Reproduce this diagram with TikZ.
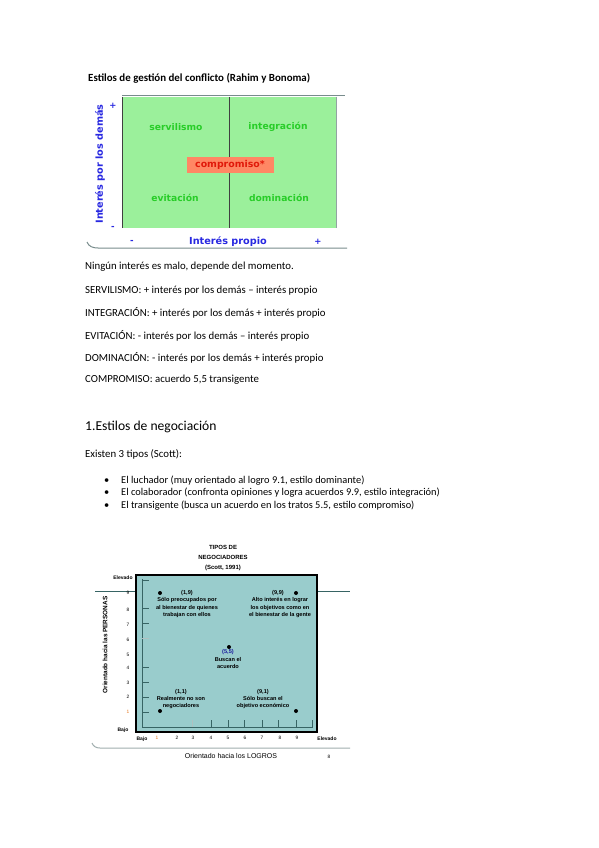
\documentclass[tikz,border=0pt]{standalone}
\usepackage{fontspec}
\setmainfont{Carlito}
\newfontfamily\arialfont{Liberation Sans}
\newfontfamily\verdfont{DejaVu Sans}
\usetikzlibrary{positioning}
\definecolor{quadgreen}{RGB}{155,240,155}
\definecolor{quadtext}{RGB}{40,205,40}
\definecolor{axblue}{RGB}{40,40,225}
\definecolor{compfill}{RGB}{255,135,100}
\definecolor{compred}{RGB}{225,25,10}
\definecolor{rulegray}{RGB}{120,140,140}
\definecolor{scottfill}{RGB}{153,204,204}
\definecolor{scottline}{RGB}{55,100,100}
\definecolor{tickorange}{RGB}{230,120,30}
\tikzset{
  body/.style={anchor=west, inner sep=0pt, font=\fontsize{10.8}{12}\selectfont},
  quad/.style={font=\verdfont\bfseries\fontsize{9.2}{10}\selectfont, text=quadtext, inner sep=0pt},
  axlab/.style={font=\verdfont\bfseries\fontsize{9.7}{11}\selectfont, text=axblue, inner sep=0pt},
  sgn/.style={font=\verdfont\bfseries\fontsize{8.5}{10}\selectfont, text=axblue, inner sep=0pt},
  scott/.style={font=\arialfont\bfseries\fontsize{5.6}{7.2}\selectfont, align=center, inner sep=0pt},
  tlab/.style={font=\arialfont\fontsize{4.8}{5}\selectfont, inner sep=0pt},
  tbold/.style={font=\arialfont\bfseries\fontsize{5}{5}\selectfont, inner sep=0pt},
  pt/.style={circle, fill=black, inner sep=0pt, minimum size=4pt},
  grule/.style={rulegray, line width=1pt},
}

\begin{document}
\begin{tikzpicture}[x=1pt, y=-1pt]
  \useasboundingbox[fill=white] (0,0) rectangle (599,848);

  % estilos de gestion
  \node[anchor=west, inner sep=0pt, font=\fontsize{10.9}{12}\selectfont\bfseries] (title) at (88,78)
    {Estilos de gestión del conflicto (Rahim y Bonoma)};
  \fill[quadgreen] (122,97) rectangle (336,228);
  \draw[grule] (122,96) -- (345,96);
  \draw[rulegray!80, line width=0.8pt] (336,97) -- (336,228);
  \draw[black!75, line width=0.9pt] (122,97) -- (122,228);
  \draw[black!75, line width=0.9pt] (229,97) -- (229,228);
  \draw[grule] (87,242) to[out=-70, in=180] (98,248) -- (347,248);
  \node[quad] (servil) at (176,127) {servilismo};
  \node[quad] (integr) at (278,127) {integración};
  \node[quad] (evit) at (175,198) {evitación};
  \node[quad] (domin) at (279,198) {dominación};
  \node[fill=compfill, text=compred, font=\verdfont\bfseries\fontsize{9.4}{11}\selectfont,
    minimum width=87pt, minimum height=16pt, inner sep=0pt] (compr) at (230,165) {compromiso*};
  \node[axlab, rotate=90] (demas) at (100,164) {Interés por los demás};
  \node[sgn] (dmas) at (113,106) {+};
  \node[sgn] (dmenos) at (113,228) {-};
  \node[axlab] (propio) at (228,242) {Interés propio};
  \node[sgn] (pmenos) at (132,242) {-};
  \node[sgn] (pmas) at (318,242) {+};

  % texto
  \node[body] (l1) at (85,267) {Ningún interés es malo, depende del momento.};
  \node[body] (l2) at (85,291) {SERVILISMO: + interés por los demás – interés propio};
  \node[body] (l3) at (85,313) {INTEGRACIÓN: + interés por los demás + interés propio};
  \node[body] (l4) at (85,336) {EVITACIÓN: - interés por los demás – interés propio};
  \node[body] (l5) at (85,358) {DOMINACIÓN: - interés por los demás + interés propio};
  \node[body] (l6) at (85,380) {COMPROMISO: acuerdo 5,5 transigente};
  \node[anchor=west, inner sep=0pt, font=\fontsize{13.6}{15}\selectfont] (sec) at (85,427)
    {1.Estilos de negociación};
  \node[body] (exist) at (85,454) {Existen 3 tipos (Scott):};
  \foreach \yy/\txt [count=\i] in {481/{El luchador (muy orientado al logro 9.1, estilo dominante)},
      493/{El colaborador (confronta opiniones y logra acuerdos 9.9, estilo integración)},
      506/{El transigente (busca un acuerdo en los tratos 5.5, estilo compromiso)}} {
    \node[body, font=\fontsize{10.4}{12}\selectfont] (bul\i) at (104,\yy) {•};
    \node[body, font=\fontsize{10.4}{12}\selectfont] (item\i) at (121,\yy) {\txt};
  }

  % tipos de negociadores
  \node[scott, font=\arialfont\bfseries\fontsize{6}{10}\selectfont] (stitle) at (223,558)
    {TIPOS DE\\NEGOCIADORES\\(Scott, 1991)};
  \draw[scottline, line width=1pt] (95,591) -- (350,591);
  \draw[fill=scottfill, line width=2.6pt] (136,575) rectangle (317,732);
  \draw[scottline, line width=0.7pt] (142,579) -- (142,727) -- (312,727) -- (312,720);
  \foreach \yy in {580,608,623,667,682,697,712}
    \draw[scottline, line width=0.7pt] (142,\yy) -- (149,\yy);
  \draw[scottline!40, line width=0.7pt] (142,638) -- (149,638);
  \foreach \xx in {211,228,244,262,278,296}
    \draw[scottline, line width=0.7pt] (\xx,727) -- (\xx,720);
  \draw[scottline!40, line width=0.7pt] (192,727) -- (192,720);
  \draw[rulegray!70, line width=1pt] (92,743) to[out=-70, in=180] (100,748) -- (350,748);

  \node[tbold] (yelev) at (123,578) {Elevado};
  \node[tbold] (ybajo) at (123,730) {Bajo};
  \foreach \yy/\n in {593/9,610/8,625/7,640/6,655/5,668/4,683/3,697/2}
    \node[tlab] (y\n) at (128,\yy) {\n};
  \node[tlab, text=tickorange] (y1) at (128,712) {1};
  \node[tbold] (xbajo) at (142,739) {Bajo};
  \node[tlab, text=tickorange] (x1) at (157,738) {1};
  \foreach \xx/\n in {177/2,193/3,211/4,228/5,245/6,262/7,280/8,297/9}
    \node[tlab] (x\n) at (\xx,738) {\n};
  \node[tbold] (xelev) at (327,739) {Elevado};
  \node[scott, font=\arialfont\bfseries\fontsize{6.4}{7}\selectfont, rotate=90] (ytit) at (105,645)
    {Orientado hacia las PERSONAS};
  \node[scott, font=\arialfont\fontsize{7}{8}\selectfont] (xtit) at (231,756)
    {Orientado hacia los LOGROS};
  \node[tlab] (pagen) at (329,757) {8};

  \node[pt] (p19) at (160,593) {};
  \node[pt] (p99) at (296,593) {};
  \node[pt] (p55) at (229,647) {};
  \node[pt] (p11) at (160,711) {};
  \node[pt] (p91) at (296,711) {};
  \node[scott] (t19) at (187,604) {(1,9)\\Sólo preocupados por\\al bienestar de quienes\\trabajan con ellos};
  \node[scott] (t99) at (280,604) {\hspace*{-4pt}(9,9)\\Alto interés en lograr\\los objetivos como en\\el bienestar de la gente};
  \node[scott, text=axblue!70!black] (l55) at (228,652) {(5,5)};
  \node[scott] (t55) at (228,663) {Buscan el\\acuerdo};
  \node[scott] (t11) at (181,699) {(1,1)\\Realmente no son\\negociadores};
  \node[scott] (t91) at (263,699) {(9,1)\\Sólo buscan el\\objetivo económico};
\end{tikzpicture}
\end{document}
